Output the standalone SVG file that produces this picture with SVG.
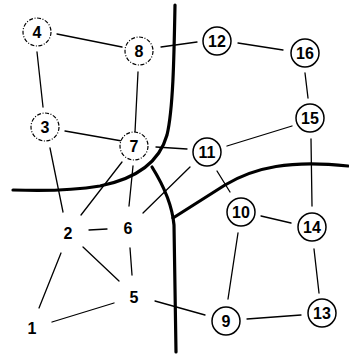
<svg xmlns="http://www.w3.org/2000/svg" width="349" height="356" viewBox="0 0 349 356">
<style>
.bg{fill:#fff}
.e{stroke:#000;stroke-width:1.3;fill:none;stroke-linecap:round}
.b{stroke:#000;stroke-width:3.2;fill:none;stroke-linecap:round;stroke-linejoin:round}
.c{fill:#fff;stroke:#000;stroke-width:1.5}
.d{fill:#fff;stroke:#000;stroke-width:1.2;stroke-dasharray:4 1.6 1 1.6}
text{font-family:"Liberation Sans",Arial,sans-serif;font-weight:bold;font-size:16px;text-anchor:middle;dominant-baseline:central;fill:#000}
</style>
<rect class="bg" width="349" height="356"/>
<g id="boundaries">
<path class="b" d="M175,5 C174,60 173,110 167,135 C160,160 140,178 100,186 C70,191 40,191 13,190"/>
<path class="b" d="M152,167 C162,183 172,203 174,225 L176,352"/>
<path class="b" d="M173,218 L225,185 C255,167 290,160 348,166"/>
</g>
<g id="connectors">
<line class="e" x1="57" y1="34" x2="122" y2="47"/>
<line class="e" x1="37" y1="52" x2="43" y2="107"/>
<line class="e" x1="138" y1="72" x2="135" y2="132"/>
<line class="e" x1="65" y1="131" x2="122" y2="141"/>
<line class="e" x1="50" y1="148" x2="63" y2="212"/>
<line class="e" x1="122" y1="162" x2="81" y2="215"/>
<line class="e" x1="133" y1="166" x2="129" y2="206"/>
<line class="e" x1="161" y1="47" x2="197" y2="42"/>
<line class="e" x1="156" y1="147" x2="187" y2="149"/>
<line class="e" x1="238" y1="43" x2="283" y2="50"/>
<line class="e" x1="305" y1="73" x2="308" y2="98"/>
<line class="e" x1="292" y1="126" x2="227" y2="146"/>
<line class="e" x1="311" y1="139" x2="312" y2="206"/>
<line class="e" x1="217" y1="171" x2="230" y2="192"/>
<line class="e" x1="190" y1="167" x2="143" y2="213"/>
<line class="e" x1="261" y1="216" x2="291" y2="223"/>
<line class="e" x1="238" y1="233" x2="228" y2="299"/>
<line class="e" x1="314" y1="249" x2="319" y2="293"/>
<line class="e" x1="247" y1="319" x2="301" y2="315"/>
<line class="e" x1="155" y1="301" x2="205" y2="315"/>
<line class="e" x1="89" y1="230" x2="107" y2="229"/>
<line class="e" x1="61" y1="253" x2="39" y2="308"/>
<line class="e" x1="83" y1="247" x2="119" y2="281"/>
<line class="e" x1="130" y1="248" x2="132" y2="275"/>
<line class="e" x1="52" y1="322" x2="114" y2="303"/>
</g>
<g id="n4"><circle class="d" cx="37" cy="32" r="14"/><text x="37" y="32">4</text></g>
<g id="n8"><circle class="d" cx="139" cy="51" r="14"/><text x="139" y="51">8</text></g>
<g id="n3"><circle class="d" cx="45" cy="127" r="14"/><text x="45" y="127">3</text></g>
<g id="n7"><circle class="d" cx="134" cy="146" r="14"/><text x="134" y="146">7</text></g>
<g id="n12"><circle class="c" cx="217" cy="41" r="14"/><text x="217" y="41">12</text></g>
<g id="n16"><circle class="c" cx="305" cy="53" r="14"/><text x="305" y="53">16</text></g>
<g id="n15"><circle class="c" cx="310" cy="118" r="14"/><text x="310" y="118">15</text></g>
<g id="n11"><circle class="c" cx="207" cy="152" r="14"/><text x="207" y="152">11</text></g>
<g id="n10"><circle class="c" cx="241" cy="212" r="14"/><text x="241" y="212">10</text></g>
<g id="n14"><circle class="c" cx="312" cy="227" r="14"/><text x="312" y="227">14</text></g>
<g id="n9"><circle class="c" cx="226" cy="321" r="14"/><text x="226" y="321">9</text></g>
<g id="n13"><circle class="c" cx="322" cy="313" r="14"/><text x="322" y="313">13</text></g>
<g id="n2"><text x="68" y="233">2</text></g>
<g id="n6"><text x="128" y="228">6</text></g>
<g id="n5"><text x="134" y="297">5</text></g>
<g id="n1"><text x="32" y="328">1</text></g>
</svg>
